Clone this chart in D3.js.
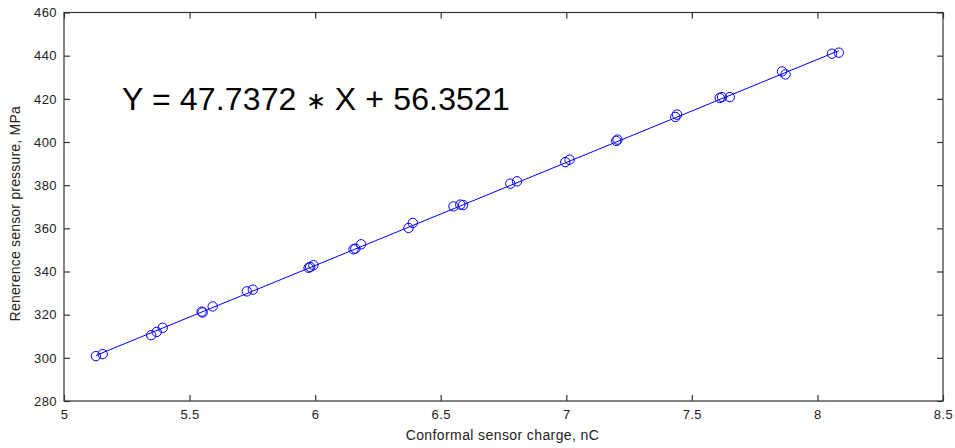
<!DOCTYPE html>
<html>
<head>
<meta charset="utf-8">
<script src="https://cdn.jsdelivr.net/npm/d3@7"></script>
<style>
  html, body { margin: 0; padding: 0; background: #fff; }
  svg { display: block; }
  text { font-family: Arial, "Liberation Sans", sans-serif; }
</style>
</head>
<body>
<svg id="chart" width="955" height="448"></svg>
<script>
// Calibration samples: conformal sensor charge (nC) vs reference pressure (MPa)
const chargeNC = [
  5.127, 5.154,
  5.347, 5.369, 5.393,
  5.552, 5.548, 5.592,
  5.728, 5.752,
  5.974, 5.980, 5.993,
  6.153, 6.160, 6.183,
  6.372, 6.389,
  6.551, 6.578, 6.589,
  6.777, 6.804,
  6.996, 7.013,
  7.199, 7.204,
  7.434, 7.441,
  7.611, 7.620, 7.651,
  7.859, 7.873,
  8.058, 8.085
];
const pressureMPa = [
  300.8, 301.7,
  310.5, 312.0, 313.9,
  321.0, 321.4, 323.8,
  330.8, 331.6,
  341.7, 342.1, 342.9,
  350.3, 350.6, 352.6,
  360.2, 362.5,
  370.2, 371.0, 370.8,
  380.7, 381.8,
  390.7, 391.8,
  400.5, 401.1,
  411.6, 412.7,
  420.4, 420.8, 420.8,
  432.7, 431.3,
  440.9, 441.4
];
// Least-squares fit coefficients
const fitSlope = 47.7372;
const fitIntercept = 56.3521;

const xTicks = [5, 5.5, 6, 6.5, 7, 7.5, 8, 8.5];
const yTicks = [280, 300, 320, 340, 360, 380, 400, 420, 440, 460];

const svg = d3.select("#chart");
const m = { left: 64, right: 12, top: 12.5, bottom: 47 };
const W = 955, H = 448;

const x = d3.scaleLinear().domain([5, 8.5]).range([m.left, W - m.right]);
const y = d3.scaleLinear().domain([280, 460]).range([H - m.bottom, m.top]);

const axisColor = "#333";
const tickLen = 6;

// Plot box
svg.append("rect")
  .attr("x", x(5)).attr("y", y(460))
  .attr("width", x(8.5) - x(5)).attr("height", y(280) - y(460))
  .attr("fill", "#fff").attr("stroke", axisColor).attr("stroke-width", 1.2);

function styleAxis(g) {
  g.select(".domain").remove();
  g.selectAll(".tick line").attr("stroke", axisColor).attr("stroke-width", 1.2);
  g.selectAll(".tick text").attr("fill", "#222")
    .style("font-size", "13px").style("letter-spacing", "0.4px");
}

// Bottom and left axes with inward ticks
svg.append("g").attr("transform", `translate(0,${y(280)})`)
  .call(d3.axisBottom(x).tickValues(xTicks).tickSize(-tickLen).tickPadding(9).tickFormat(d3.format("")))
  .call(styleAxis);
svg.append("g").attr("transform", `translate(${x(5)},0)`)
  .call(d3.axisLeft(y).tickValues(yTicks).tickSize(-tickLen).tickPadding(7).tickFormat(d3.format("")))
  .call(styleAxis);
// Mirror ticks on top and right
svg.append("g").attr("transform", `translate(0,${y(460)})`)
  .call(d3.axisTop(x).tickValues(xTicks).tickSize(-tickLen).tickFormat(""))
  .call(styleAxis);
svg.append("g").attr("transform", `translate(${x(8.5)},0)`)
  .call(d3.axisRight(y).tickValues(yTicks).tickSize(-tickLen).tickFormat(""))
  .call(styleAxis);

// Fitted line over the sampled range
const xMin = d3.min(chargeNC), xMax = d3.max(chargeNC);
svg.append("line")
  .attr("x1", x(xMin)).attr("y1", y(fitSlope * xMin + fitIntercept))
  .attr("x2", x(xMax)).attr("y2", y(fitSlope * xMax + fitIntercept))
  .attr("stroke", "#0000ff").attr("stroke-width", 1);

// Sample markers
svg.append("g").selectAll("circle")
  .data(chargeNC.map((c, i) => [c, pressureMPa[i]]))
  .join("circle")
  .attr("cx", d => x(d[0])).attr("cy", d => y(d[1]))
  .attr("r", 4.7)
  .attr("fill", "none").attr("stroke", "#0000ff").attr("stroke-width", 1);

// Fit equation
const eq = svg.append("text")
  .attr("x", 122).attr("y", 110)
  .style("font-size", "32px").style("letter-spacing", "0.15px").attr("fill", "#000");
eq.append("tspan").text(`Y = ${fitSlope} `);
eq.append("tspan").style("font-size", "24px").attr("dy", -1).text("\u2217");
eq.append("tspan").attr("dy", 1).text(` X + ${fitIntercept}`);

// Axis titles
svg.append("text")
  .attr("x", (x(5) + x(8.5)) / 2 - 1).attr("y", 440)
  .attr("text-anchor", "middle").style("font-size", "14px").style("letter-spacing", "0.4px")
  .attr("fill", "#222")
  .text("Conformal sensor charge, nC");
svg.append("text")
  .attr("transform", `translate(20,${(y(280) + y(460)) / 2 + 7}) rotate(-90)`)
  .attr("text-anchor", "middle").style("font-size", "14px").style("letter-spacing", "0.2px")
  .attr("fill", "#222")
  .text("Renerence sensor pressure, MPa");
</script>
</body>
</html>
